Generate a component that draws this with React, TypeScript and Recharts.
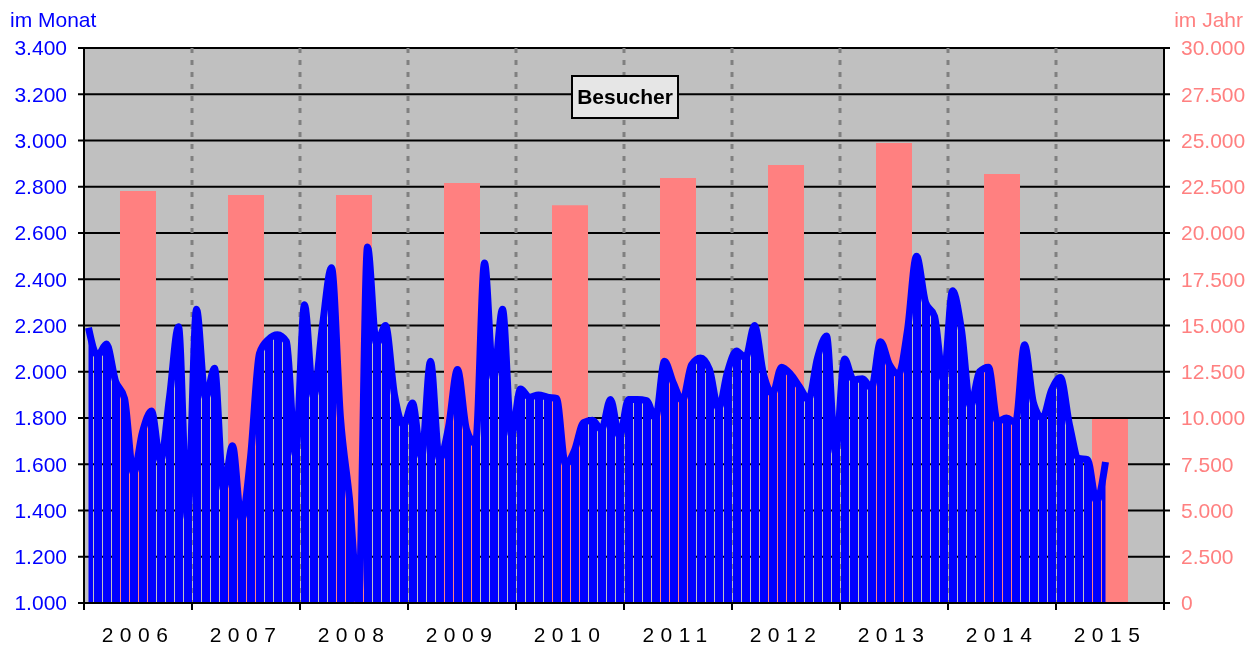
import {
  Area,
  Bar,
  BarChart,
  CartesianGrid,
  ComposedChart,
  Line,
  XAxis,
  YAxis,
} from "recharts";

const FONT = "'Liberation Sans', Arial, sans-serif";

const years = ["2006", "2007", "2008", "2009", "2010", "2011", "2012", "2013", "2014", "2015"];
// Besucher im Jahr (rechte Achse)
const yearTotals = [22270, 22050, 22050, 22700, 21500, 22970, 23680, 24860, 23190, 9950];

// Besucher im Monat (linke Achse)
const visits2006 = [2190, 2070, 2120, 1960, 1885, 1560, 1740, 1830, 1615, 1890, 2195, 1365];
const visits2007 = [2270, 1885, 2015, 1490, 1680, 1360, 1630, 2080, 2140, 2160, 2130, 1640];
const visits2008 = [2290, 1890, 2200, 2450, 1800, 1450, 1000, 2540, 2120, 2200, 1900, 1770];
const visits2009 = [1865, 1630, 2045, 1620, 1760, 2010, 1750, 1690, 2470, 1970, 2270, 1725];
const visits2010 = [1925, 1890, 1900, 1890, 1885, 1600, 1660, 1780, 1790, 1750, 1880, 1720];
const visits2011 = [1880, 1880, 1875, 1800, 2045, 1950, 1875, 2030, 2060, 2010, 1840, 2000];
const visits2012 = [2090, 2060, 2200, 1990, 1905, 2020, 1990, 1935, 1880, 2060, 2155, 1650];
const visits2013 = [2055, 1965, 1970, 1930, 2130, 2030, 1990, 2180, 2500, 2300, 2240, 1965];
const visits2014 = [2350, 2180, 1850, 2000, 2020, 1785, 1800, 1780, 2117, 1865, 1800, 1920];
const visits2015 = [1975, 1770, 1626, 1620, 1440, 1610];

const monthlyByYear = [
  visits2006, visits2007, visits2008, visits2009, visits2010,
  visits2011, visits2012, visits2013, visits2014, visits2015,
];

const monthTicks = [1000, 1200, 1400, 1600, 1800, 2000, 2200, 2400, 2600, 2800, 3000, 3200, 3400];
const yearTicks = [0, 2500, 5000, 7500, 10000, 12500, 15000, 17500, 20000, 22500, 25000, 27500, 30000];

const yearRows = years.map((year, i) => ({ year, total: yearTotals[i] }));
const monthRows = monthlyByYear.flatMap((vals, y) =>
  vals.map((visits, m) => ({ pos: y * 12 + m + 0.5, visits }))
);
const monthCount = years.length * 12;
const yearStarts = [...years.map((_, i) => i * 12), monthCount];

const fmt = (v: number) => String(v).replace(/\B(?=(\d{3})+(?!\d))/g, ".");

// dashed separators between the years
const yearSeparators = ({ offset }: any) =>
  years.slice(1).map((_, i) => offset.left + ((i + 1) * offset.width) / years.length);

function YearTick({ x, y, payload }: any) {
  return (
    <text
      x={x}
      y={y}
      dy={31}
      textAnchor="middle"
      fontSize={21}
      letterSpacing={6.5}
      fill="#000"
      fontFamily={FONT}
    >
      {payload.value}
    </text>
  );
}

export default function App() {
  return (
    <div style={{ position: "fixed", left: 0, top: 0, width: 1256, height: 645, fontFamily: FONT }}>
      {/* Jahreswerte, Raster und Achsen */}
      <div style={{ position: "absolute", left: 0, top: 0 }}>
        <BarChart
          width={1256}
          height={645}
          data={yearRows}
          margin={{ top: 48, right: 0, bottom: 0, left: 0 }}
          barSize={36}
        >
          <CartesianGrid
            xAxisId="yr"
            yAxisId="left"
            vertical={false}
            stroke="#000"
            strokeWidth={2}
            fill="#c0c0c0"
            fillOpacity={1}
          />
          <CartesianGrid
            xAxisId="yr"
            yAxisId="left"
            horizontal={false}
            verticalCoordinatesGenerator={yearSeparators}
            stroke="#808080"
            strokeWidth={3}
            strokeDasharray="5 7"
          />
          <XAxis
            xAxisId="yr"
            dataKey="year"
            height={42}
            axisLine={false}
            tickLine={false}
            interval={0}
            tick={<YearTick />}
          />
          <YAxis
            yAxisId="left"
            domain={[1000, 3400]}
            allowDataOverflow
            ticks={monthTicks}
            interval={0}
            width={84}
            tickFormatter={fmt}
            tickSize={6}
            tickMargin={11}
            tick={{ fill: "#0000ff", fontSize: 21, fontFamily: FONT }}
            axisLine={{ stroke: "#000", strokeWidth: 2 }}
            tickLine={{ stroke: "#000", strokeWidth: 2 }}
          />
          <YAxis
            yAxisId="right"
            orientation="right"
            domain={[0, 30000]}
            ticks={yearTicks}
            interval={0}
            width={92}
            tickFormatter={fmt}
            tickSize={6}
            tickMargin={11}
            tick={{ fill: "#ff8080", fontSize: 21, fontFamily: FONT }}
            axisLine={{ stroke: "#000", strokeWidth: 2 }}
            tickLine={{ stroke: "#000", strokeWidth: 2 }}
          />
          <Bar xAxisId="yr" yAxisId="right" dataKey="total" fill="#ff8080" isAnimationActive={false} />
        </BarChart>
      </div>
      {/* Monatswerte */}
      <div style={{ position: "absolute", left: 0, top: 0 }}>
        <ComposedChart
          width={1256}
          height={645}
          data={monthRows}
          margin={{ top: 48, right: 92, bottom: 0, left: 84 }}
        >
          <XAxis
            dataKey="pos"
            type="number"
            domain={[0, monthCount]}
            ticks={yearStarts}
            interval={0}
            allowDataOverflow
            height={42}
            tickFormatter={() => ""}
            tickSize={7}
            axisLine={{ stroke: "#000", strokeWidth: 2 }}
            tickLine={{ stroke: "#000", strokeWidth: 2 }}
          />
          <YAxis domain={[1000, 3400]} hide allowDataOverflow />
          <Area
            dataKey="visits"
            type="monotone"
            fill="url(#monthStripes)"
            fillOpacity={1}
            stroke="none"
            isAnimationActive={false}
          />
          <Line
            dataKey="visits"
            type="monotone"
            stroke="#0000ff"
            strokeWidth={7}
            dot={false}
            activeDot={false}
            isAnimationActive={false}
          />
        </ComposedChart>
      </div>
      <svg
        width={1256}
        height={645}
        style={{ position: "absolute", left: 0, top: 0, pointerEvents: "none" }}
      >
        <defs>
          <pattern id="monthStripes" patternUnits="userSpaceOnUse" x={85} y={0} width={9} height={10}>
            <rect x={0} y={0} width={8} height={10} fill="#0000ff" />
          </pattern>
        </defs>
        <text x={10} y={27} fontSize={21} fill="#0000ff" fontFamily={FONT}>
          im Monat
        </text>
        <text x={1243} y={27} fontSize={21} fill="#ff8080" textAnchor="end" fontFamily={FONT}>
          im Jahr
        </text>
        <rect x={572} y={76} width={106} height={42} fill="#e6e6e6" stroke="#000" strokeWidth={2} />
        <text x={625} y={104} fontSize={21} fontWeight="bold" textAnchor="middle" fill="#000" fontFamily={FONT}>
          Besucher
        </text>
      </svg>
    </div>
  );
}
